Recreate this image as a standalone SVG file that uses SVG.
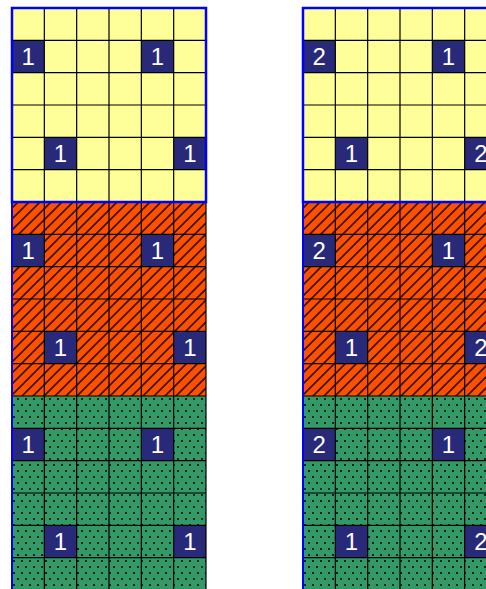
<svg xmlns="http://www.w3.org/2000/svg" width="486" height="589" viewBox="0 0 486 589">
<style>
.yel{fill:#FFFF99}
.org{fill:#FF5000}
.grn{fill:#339966}
.hat{fill:url(#hatch)}
.dot{fill:url(#dots)}
.dark{fill:#29297A}
.grid{fill:none;stroke:#000;stroke-width:1.2}
.bord{fill:none;stroke:#0000FF;stroke-width:2.5}
.side{stroke:#0000FF;stroke-width:2}
.num{font-family:"Liberation Sans",Arial,sans-serif;font-size:24px;fill:#FFFFFF;text-anchor:middle}
</style>
<defs>
<pattern id="hatch" patternUnits="userSpaceOnUse" width="11" height="11">
<path d="M-2,2 L2,-2 M0,11 L11,0 M9,13 L13,9" stroke="#1a0a00" stroke-width="1.8" stroke-opacity="0.85"/>
</pattern>
<pattern id="dots" patternUnits="userSpaceOnUse" width="8" height="12">
<circle cx="2" cy="3" r="1" fill="#000"/>
<circle cx="6" cy="9" r="1" fill="#000"/>
</pattern>
<path id="gridlines" d="M12,8 V590 M44.33,8 V590 M76.67,8 V590 M109,8 V590 M141.33,8 V590 M173.67,8 V590 M206,8 V590 M12,40.33 H206 M12,72.67 H206 M12,105 H206 M12,137.33 H206 M12,169.67 H206 M12,202 H206 M12,234.33 H206 M12,266.67 H206 M12,299 H206 M12,331.33 H206 M12,363.67 H206 M12,396 H206 M12,428.33 H206 M12,460.67 H206 M12,493 H206 M12,525.33 H206 M12,557.67 H206"/>
<g id="bands">
<rect class="yel" x="12" y="8" width="194" height="194"/>
<rect class="org" x="12" y="202" width="194" height="194"/>
<rect class="hat" x="12" y="202" width="194" height="194"/>
<rect class="grn" x="12" y="396" width="194" height="194"/>
<rect class="dot" x="12" y="396" width="194" height="194"/>
</g>
<g id="darkcells">
<rect class="dark" x="12" y="40.33" width="32.33" height="32.33"/>
<rect class="dark" x="141.33" y="40.33" width="32.33" height="32.33"/>
<rect class="dark" x="44.33" y="137.33" width="32.33" height="32.33"/>
<rect class="dark" x="173.67" y="137.33" width="32.33" height="32.33"/>
<rect class="dark" x="12" y="234.33" width="32.33" height="32.33"/>
<rect class="dark" x="141.33" y="234.33" width="32.33" height="32.33"/>
<rect class="dark" x="44.33" y="331.33" width="32.33" height="32.33"/>
<rect class="dark" x="173.67" y="331.33" width="32.33" height="32.33"/>
<rect class="dark" x="12" y="428.33" width="32.33" height="32.33"/>
<rect class="dark" x="141.33" y="428.33" width="32.33" height="32.33"/>
<rect class="dark" x="44.33" y="525.33" width="32.33" height="32.33"/>
<rect class="dark" x="173.67" y="525.33" width="32.33" height="32.33"/>
</g>
</defs>
<g id="grid-left">
<use href="#bands"/>
<use href="#darkcells"/>
<use href="#gridlines" class="grid"/>
<line class="side" x1="12" y1="202" x2="12" y2="590"/>
<rect class="bord" x="12" y="8" width="194" height="194"/>
<g class="num">
<text x="28.17" y="65.3">1</text>
<text x="157.5" y="65.3">1</text>
<text x="60.5" y="162.3">1</text>
<text x="189.83" y="162.3">1</text>
<text x="28.17" y="259.3">1</text>
<text x="157.5" y="259.3">1</text>
<text x="60.5" y="356.3">1</text>
<text x="189.83" y="356.3">1</text>
<text x="28.17" y="453.3">1</text>
<text x="157.5" y="453.3">1</text>
<text x="60.5" y="550.3">1</text>
<text x="189.83" y="550.3">1</text>
</g>
</g>
<g id="grid-right" transform="translate(291,0)">
<use href="#bands"/>
<use href="#darkcells"/>
<use href="#gridlines" class="grid"/>
<line class="side" x1="12" y1="202" x2="12" y2="590"/>
<rect class="bord" x="12" y="8" width="194" height="194"/>
<g class="num">
<text x="28.17" y="65.3">2</text>
<text x="157.5" y="65.3">1</text>
<text x="60.5" y="162.3">1</text>
<text x="189.83" y="162.3">2</text>
<text x="28.17" y="259.3">2</text>
<text x="157.5" y="259.3">1</text>
<text x="60.5" y="356.3">1</text>
<text x="189.83" y="356.3">2</text>
<text x="28.17" y="453.3">2</text>
<text x="157.5" y="453.3">1</text>
<text x="60.5" y="550.3">1</text>
<text x="189.83" y="550.3">2</text>
</g>
</g>
</svg>
